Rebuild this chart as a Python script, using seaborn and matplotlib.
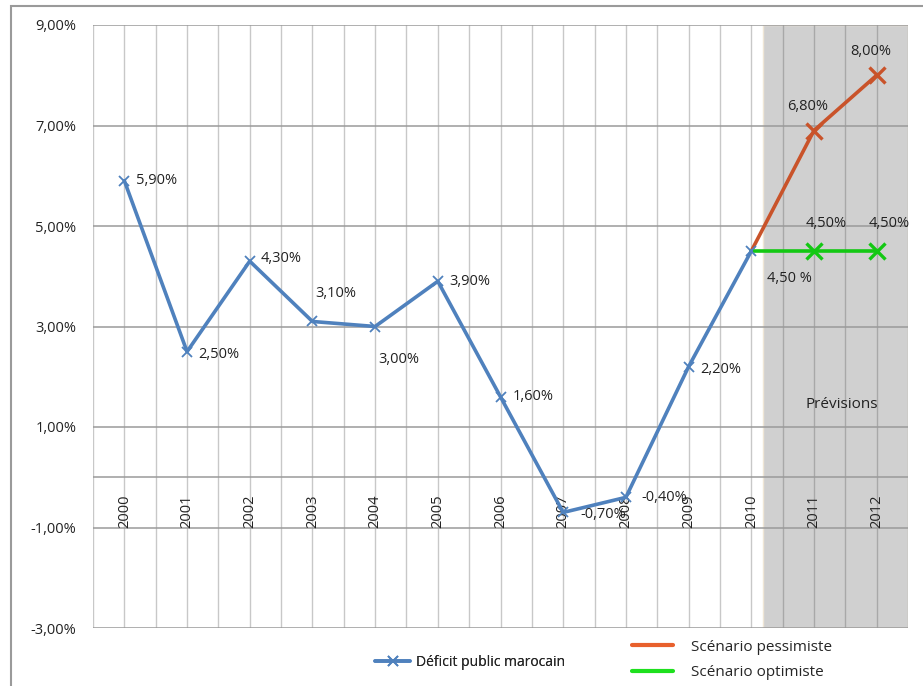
import matplotlib
matplotlib.use("Agg")
import matplotlib.pyplot as plt
from matplotlib.lines import Line2D
from matplotlib.patches import Rectangle
import pandas as pd
import seaborn as sns

years = ["2000", "2001", "2002", "2003", "2004", "2005", "2006",
         "2007", "2008", "2009", "2010", "2011", "2012"]
deficit = [5.9, 2.5, 4.3, 3.1, 3.0, 3.9, 1.6, -0.7, -0.4, 2.2, 4.5]
pessimist_years = ["2010", "2011", "2012"]
pessimist = [4.5, 6.9, 8.0]
optimist_years = ["2010", "2011", "2012"]
optimist = [4.5, 4.5, 4.5]
deficit_labels = ["5,90%", "2,50%", "4,30%", "3,10%", "3,00%", "3,90%", "1,60%",
                  "-0,70%", "-0,40%", "2,20%", "4,50 %"]
pessimist_labels = ["", "6,80%", "8,00%"]
optimist_labels = ["", "4,50%", "4,50%"]
y_ticks = [-3, -1, 1, 3, 5, 7, 9]

BLUE = "#4F81BD"
ORANGE = "#C9532A"
GREEN = "#13C813"
TEXT = "#222222"

sns.set_theme(style="white")
plt.rcParams["font.family"] = ["Open Sans", "DejaVu Sans"]

pos = {y: i for i, y in enumerate(years)}
df_main = pd.DataFrame({"x": [pos[y] for y in years[:len(deficit)]], "v": deficit})
df_pess = pd.DataFrame({"x": [pos[y] for y in pessimist_years], "v": pessimist})
df_opt = pd.DataFrame({"x": [pos[y] for y in optimist_years], "v": optimist})

fig = plt.figure(figsize=(9.23, 6.86), dpi=100)
fig.patches.append(Rectangle((11 / 923, -0.1), 1.2, 1 - 6 / 686 + 0.1,
                             transform=fig.transFigure, fill=False,
                             edgecolor="#9a9a9a", linewidth=1.5, zorder=0))
ax = fig.add_axes([93 / 923, 1 - 628 / 686, (908 - 93) / 923, (628 - 25) / 686])
ax.set_xlim(-0.5, len(years) - 0.5)
ax.set_ylim(-3, 9)

# forecast shading
ax.axvspan(10.18, 12.5, color="#d0d0d0", ec="#efe6d6", lw=1, zorder=0)

# grid
for k in range(2 * len(years) + 1):
    xv = -0.5 + k * 0.5
    ax.axvline(xv, color="#a8a8a8" if xv > 10.18 else "#c8c8c8", lw=1, zorder=1)
for yv in y_ticks + [0]:
    ax.axhline(yv, color="#9a9a9a", lw=1.1, zorder=1)

sns.lineplot(data=df_pess, x="x", y="v", ax=ax, color=ORANGE, lw=2.6,
             marker="x", markersize=11, markeredgewidth=2.4, markevery=[1, 2],
             markeredgecolor=ORANGE, zorder=3)
sns.lineplot(data=df_opt, x="x", y="v", ax=ax, color=GREEN, lw=2.6,
             marker="x", markersize=11, markeredgewidth=2.4, markevery=[1, 2],
             markeredgecolor=GREEN, zorder=3)
sns.lineplot(data=df_main, x="x", y="v", ax=ax, color=BLUE, lw=2.6,
             marker="x", markersize=7, markeredgewidth=1.3,
             markeredgecolor=BLUE, zorder=4)

# data labels
offsets = [(0.18, 0.0), (0.18, -0.05), (0.18, 0.05), (0.05, 0.55),
           (0.05, -0.65), (0.18, 0.0), (0.2, 0.0), (0.28, -0.05),
           (0.25, 0.0), (0.18, -0.05), (0.25, -0.55)]
for i, (lbl, v) in enumerate(zip(deficit_labels, deficit)):
    dx, dy = offsets[i]
    ax.text(i + dx, v + dy, lbl, fontsize=10.5, color=TEXT, ha="left", va="center", zorder=5)
for i, (lbl, v) in enumerate(zip(pessimist_labels, pessimist)):
    if lbl:
        ax.text(pos[pessimist_years[i]] - 0.1, v + 0.48, lbl, fontsize=10.5,
                color=TEXT, ha="center", va="center", zorder=5)
for i, (lbl, v) in enumerate(zip(optimist_labels, optimist)):
    if lbl:
        ax.text(pos[optimist_years[i]] + 0.2, v + 0.55, lbl, fontsize=10.5,
                color=TEXT, ha="center", va="center", zorder=5)

ax.text(11.45, 1.45, "Prévisions", fontsize=11, color=TEXT, ha="center", va="center")

# category labels along the zero line
for i, y in enumerate(years):
    ax.text(i, -1.0, y, rotation=90, fontsize=10.5, color=TEXT,
            ha="center", va="bottom", zorder=2)

ax.set_xticks([])
ax.set_yticks(y_ticks)
ax.set_yticklabels([f"{t:.2f}%".replace(".", ",") for t in y_ticks],
                   fontsize=10.5, color=TEXT)
ax.tick_params(axis="y", length=0, pad=12)
ax.set_xlabel("")
ax.set_ylabel("")
for s in ax.spines.values():
    s.set_visible(False)

h_main = Line2D([], [], color=BLUE, lw=2.6, marker="x", markersize=7,
                markeredgewidth=1.3)
leg1 = fig.legend([h_main], ["Déficit public marocain"], loc="center",
                  bbox_to_anchor=(470 / 923, 1 - 662 / 686), frameon=False,
                  fontsize=10, handlelength=2.5, handletextpad=0.4)
fig.add_artist(leg1)
h_p = Line2D([], [], color="#E8602C", lw=3)
h_o = Line2D([], [], color="#1EE01E", lw=3)
fig.legend([h_p, h_o], ["Scénario pessimiste", "Scénario optimiste"],
           loc="center left", bbox_to_anchor=(618 / 923, 1 - 660 / 686),
           frameon=False, fontsize=11, handlelength=2.7, handletextpad=1.2,
           labelspacing=0.7)

fig.savefig("out.png", dpi=100)
